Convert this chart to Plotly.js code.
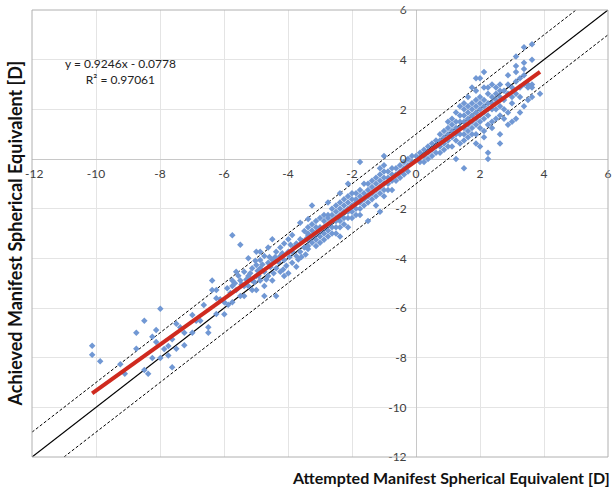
<!DOCTYPE html>
<html>
<head>
<meta charset="utf-8">
<script src="https://cdn.plot.ly/plotly-3.0.1.min.js"></script>
<style>html,body{margin:0;padding:0;background:#fff;}#chart{width:612px;height:488px;}</style>
</head>
<body>
<div id="chart"></div>
<script>
// Attempted vs achieved manifest spherical equivalent (D), pairs [attempted, achieved]
const farMyopia = [
  [-10.12,-7.52],[-10.12,-7.88],[-9.87,-8.14],[-9.24,-8.27],[-9.10,-8.65],[-8.74,-7.00],[-8.74,-7.64],
  [-8.49,-6.51],[-8.49,-8.50],[-8.37,-8.65],[-8.24,-7.16],[-8.24,-8.01],[-8.12,-6.89],[-8.12,-7.37],
  [-7.99,-6.03],[-7.99,-8.01],[-7.87,-7.65],[-7.74,-7.53],[-7.74,-7.91],[-7.62,-7.26],[-7.62,-8.39],
  [-7.49,-6.63],[-7.49,-7.64],[-7.37,-6.78],[-7.24,-7.00],[-7.24,-7.50],[-6.99,-6.28],[-6.99,-7.00],
  [-6.87,-6.51],[-6.74,-6.51],[-6.63,-5.88],[-6.49,-6.78],[-6.49,-7.00]
];
const moderateMyopia = [
  [-6.37,-4.89],[-6.37,-5.28],[-6.24,-5.28],[-6.24,-5.61],[-6.24,-6.24],[-6.12,-5.65],[-5.99,-5.77],
  [-5.99,-6.25],[-5.87,-5.87],[-5.74,-5.77],[-5.74,-3.07],[-5.74,-4.89],[-5.74,-5.11],[-5.62,-4.54],
  [-5.62,-5.28],[-5.49,-3.45],[-5.49,-4.89],[-5.49,-5.52],[-5.37,-4.54],[-5.37,-5.11],[-5.37,-5.52],
  [-5.24,-4.00],[-5.24,-4.71],[-5.24,-5.11],[-5.12,-4.40],[-5.12,-4.89],[-5.12,-5.28],[-4.99,-3.73],
  [-4.99,-4.27],[-4.99,-4.71],[-4.99,-5.28],[-4.87,-3.73],[-4.87,-4.07],[-4.87,-4.40],[-4.87,-4.89],
  [-4.74,-3.91],[-4.74,-4.54],[-4.74,-5.11],[-4.74,-5.52],[-4.62,-3.56],[-4.62,-4.18],[-4.62,-4.71],
  [-4.49,-3.23],[-4.49,-4.07],[-4.49,-4.89],[-4.37,-3.73],[-4.37,-4.40],[-4.37,-5.52],[-4.24,-3.56],
  [-4.24,-3.91],[-4.24,-4.54],[-4.12,-3.40],[-4.12,-4.07],[-4.12,-4.71],[-3.99,-3.23],[-3.99,-3.73],
  [-3.99,-4.60],[-3.87,-3.06],[-3.87,-3.73],[-3.87,-4.18],[-3.74,-3.40],[-3.74,-3.91],[-3.74,-4.34],
  [-3.62,-2.57],[-3.62,-3.23],[-3.62,-3.73],[-3.49,-2.90],[-3.49,-3.56],[-3.37,-2.42],[-3.37,-3.06],
  [-5.90,-5.20],[-5.80,-5.40],[-5.66,-5.00],[-5.55,-4.70],[-5.45,-5.05],[-5.30,-4.85],[-5.18,-4.60],
  [-5.05,-4.95],[-4.95,-4.50],[-4.80,-4.25],[-4.68,-4.85],[-4.55,-4.35],[-4.45,-4.60],[-4.30,-4.15],
  [-4.18,-3.80],[-4.05,-4.30],[-3.95,-3.95],[-3.80,-3.55],[-3.68,-4.05],[-3.55,-3.30],[-3.45,-3.85],
  [-3.42,-3.20],[-4.58,-3.95],[-4.92,-4.70],[-5.02,-4.10],[-4.40,-3.95],[-4.15,-4.45],[-3.92,-3.45],
  [-3.58,-3.95]
];
const lowMyopia = [
  [-3.375,-2.75],[-3.375,-3.0],[-3.375,-3.25],[-3.375,-3.5],[-3.375,-3.625],
  [-3.25,-1.875],[-3.25,-2.625],[-3.25,-2.875],[-3.25,-3.125],[-3.25,-3.375],
  [-3.125,-2.5],[-3.125,-2.75],[-3.125,-3.0],[-3.125,-3.25],[-3.125,-3.5],
  [-3.0,-2.375],[-3.0,-2.75],[-3.0,-2.875],[-3.0,-3.125],[-3.0,-3.375],
  [-2.875,-2.25],[-2.875,-2.5],[-2.875,-2.75],[-2.875,-3.0],[-2.875,-3.25],
  [-2.75,-1.75],[-2.75,-2.25],[-2.75,-2.375],[-2.75,-2.625],[-2.75,-2.875],[-2.75,-3.125],
  [-2.625,-2.0],[-2.625,-2.25],[-2.625,-2.5],[-2.625,-2.75],[-2.625,-3.0],
  [-2.5,-1.875],[-2.5,-2.125],[-2.5,-2.375],[-2.5,-2.5],[-2.5,-2.75],[-2.5,-3.0],
  [-2.375,-1.375],[-2.375,-1.75],[-2.375,-2.0],[-2.375,-2.25],[-2.375,-2.5],[-2.375,-2.75],[-2.375,-3.125],
  [-2.25,-1.625],[-2.25,-1.875],[-2.25,-2.125],[-2.25,-2.375],[-2.25,-2.625],
  [-2.125,-1.0],[-2.125,-1.5],[-2.125,-1.75],[-2.125,-2.0],[-2.125,-2.125],[-2.125,-2.375],[-2.125,-2.75],
  [-2.0,-1.375],[-2.0,-1.625],[-2.0,-1.875],[-2.0,-2.125],[-2.0,-2.375],
  [-1.875,-1.375],[-1.875,-1.625],[-1.875,-1.75],[-1.875,-2.0],[-1.875,-2.25],
  [-1.75,-0.125],[-1.75,-1.25],[-1.75,-1.5],[-1.75,-1.75],[-1.75,-2.0],[-1.75,-2.25],
  [-1.625,-1.0],[-1.625,-1.375],[-1.625,-1.625],[-1.625,-1.875],
  [-1.5,-1.0],[-1.5,-1.25],[-1.5,-1.5],[-1.5,-1.75],[-1.5,-2.5],
  [-1.375,-0.875],[-1.375,-1.125],[-1.375,-1.375],[-1.375,-1.625],
  [-1.25,-0.75],[-1.25,-1.0],[-1.25,-1.25],[-1.25,-1.5],[-1.25,-1.875],
  [-1.125,-0.375],[-1.125,-0.625],[-1.125,-0.875],[-1.125,-1.125],[-1.125,-1.375],[-1.125,-2.125],
  [-1.0,0.125],[-1.0,-0.25],[-1.0,-0.5],[-1.0,-0.75],[-1.0,-1.0],[-1.0,-1.25],[-1.0,-1.5],
  [-0.875,-0.5],[-0.875,-0.75],[-0.875,-1.0],[-0.875,-1.25],
  [-0.75,-0.375],[-0.75,-0.625],[-0.75,-0.875],[-0.75,-1.25],
  [-0.625,-0.375],[-0.625,-0.625],[-0.625,-0.875],
  [-0.5,-0.25],[-0.5,-0.5],[-0.5,-0.75],
  [-0.375,-0.125],[-0.375,-0.375],[-0.375,-0.625],
  [-0.25,0.0],[-0.25,-0.25],[-0.25,-0.5],
  [-0.125,0.125],[-0.125,-0.125]
];
const hyperopia = [
  [0.0,0.125],
  [0.125,0.25],[0.125,-0.125],
  [0.25,0.375],[0.25,0.125],[0.25,-0.125],
  [0.375,0.5],[0.375,0.25],[0.375,0.0],
  [0.5,0.625],[0.5,0.375],[0.5,0.125],
  [0.625,0.75],[0.625,0.5],[0.625,0.25],
  [0.75,1.0],[0.75,0.75],[0.75,0.5],[0.75,0.25],
  [0.875,1.125],[0.875,0.875],[0.875,0.625],[0.875,0.375],
  [1.0,1.5],[1.0,1.25],[1.0,1.0],[1.0,0.75],[1.0,0.5],
  [1.125,1.625],[1.125,1.375],[1.125,1.125],[1.125,0.875],[1.125,0.5],
  [1.25,1.875],[1.25,1.5],[1.25,1.25],[1.25,1.0],[1.25,0.75],[1.25,0.0],
  [1.375,2.125],[1.375,1.75],[1.375,1.5],[1.375,1.25],[1.375,1.0],[1.375,0.625],
  [1.5,2.25],[1.5,2.0],[1.5,1.75],[1.5,1.5],[1.5,1.25],[1.5,1.0],[1.5,0.75],[1.5,-0.375],
  [1.625,2.5],[1.625,2.125],[1.625,1.875],[1.625,1.625],[1.625,1.375],[1.625,1.125],[1.625,0.875],
  [1.75,2.875],[1.75,2.25],[1.75,2.0],[1.75,1.75],[1.75,1.5],[1.75,1.25],[1.75,1.0],
  [1.875,3.25],[1.875,2.75],[1.875,2.375],[1.875,2.125],[1.875,1.875],[1.875,1.625],[1.875,1.375],[1.875,1.0],[1.875,0.625],
  [2.0,3.25],[2.0,2.5],[2.0,2.25],[2.0,2.0],[2.0,1.75],[2.0,1.5],[2.0,1.25],[2.0,0.5],
  [2.125,3.5],[2.125,2.875],[2.125,2.375],[2.125,2.125],[2.125,1.875],[2.125,1.625],[2.125,1.125],[2.125,0.875],
  [2.25,2.875],[2.25,2.625],[2.25,2.25],[2.25,2.0],[2.25,1.75],[2.25,1.375],[2.25,0.25],[2.25,0.0],
  [2.375,3.0],[2.375,2.5],[2.375,2.25],[2.375,2.0],[2.375,1.5],[2.375,1.25],
  [2.5,2.875],[2.5,2.625],[2.5,2.375],[2.5,2.0],[2.5,1.625],
  [2.625,3.0],[2.625,2.75],[2.625,2.5],[2.625,2.125],[2.625,1.75],[2.625,1.0],[2.625,0.625],
  [2.75,2.75],[2.75,2.375],[2.75,2.0],[2.75,1.625],
  [2.875,3.375],[2.875,3.0],[2.875,2.625],[2.875,1.875],[2.875,1.375],
  [3.0,2.875],[3.0,2.5],[3.0,2.25],[3.0,1.5],
  [3.125,4.125],[3.125,3.75],[3.125,3.5],[3.125,3.125],[3.125,2.625],[3.125,1.625],
  [3.25,3.25],[3.25,2.875],[3.25,2.5],[3.25,1.875],
  [3.375,4.5],[3.375,3.875],[3.375,3.625],[3.375,3.375],[3.375,3.0],[3.375,2.125],
  [3.5,3.0],[3.5,2.875],[3.5,2.375],
  [3.625,4.625],[3.625,4.0],[3.625,3.0],[3.625,2.875],[3.625,2.5],
  [3.875,2.625]
];
const axisTicks = [-12,-10,-8,-6,-4,-2,0,2,4,6];
const axisRange = [-12, 6];
const toleranceD = 1;
const fitSlope = 0.9246, fitIntercept = -0.0778;
const fitLabel = 'y = 0.9246x - 0.0778<br>R\u00b2 = 0.97061';
const xTitle = 'Attempted Manifest Spherical Equivalent [D]';
const yTitle = 'Achieved Manifest Spherical Equivalent [D]';

const allPts = farMyopia.concat(moderateMyopia, lowMyopia, hyperopia);
const attempted = allPts.map(p => p[0]);
const achieved = allPts.map(p => p[1]);
const xMin = Math.min(...attempted), xMax = Math.max(...attempted);

const lineX = axisRange;
const traces = [
  {x: lineX, y: lineX, mode: 'lines', line: {color: '#000', width: 1.2}, hoverinfo: 'skip'},
  {x: [axisRange[0], axisRange[1] - toleranceD], y: [axisRange[0] + toleranceD, axisRange[1]], mode: 'lines',
   line: {color: '#000', width: 1, dash: '3px,2px'}, hoverinfo: 'skip'},
  {x: [axisRange[0] + toleranceD, axisRange[1]], y: [axisRange[0], axisRange[1] - toleranceD], mode: 'lines',
   line: {color: '#000', width: 1, dash: '3px,2px'}, hoverinfo: 'skip'},
  {x: attempted, y: achieved, mode: 'markers', type: 'scatter',
   marker: {symbol: 'diamond', size: 5, color: '#7198d4'}},
  {x: [xMin, xMax], y: [fitSlope * xMin + fitIntercept, fitSlope * xMax + fitIntercept], mode: 'lines',
   line: {color: '#cf2a1f', width: 4}}
];

const tickFont = {family: 'Lato, "DejaVu Sans", sans-serif', size: 12, color: '#404040'};
// first x tick label is drawn as an annotation so it sits fully inside the frame
const xTickText = axisTicks.map((v, i) => i === 0 ? '' : String(v));
const layout = {
  width: 612, height: 488,
  margin: {l: 32, r: 4, t: 10, b: 31},
  showlegend: false,
  paper_bgcolor: '#fff', plot_bgcolor: '#fff',
  xaxis: {range: axisRange, tickvals: axisTicks, ticktext: xTickText,
    anchor: 'free', position: 12/18, side: 'bottom', ticklabeloverflow: 'allow',
    ticks: 'outside', ticklen: 4, tickcolor: 'rgba(0,0,0,0)',
    showgrid: true, gridcolor: '#e4e4e4', gridwidth: 1,
    zeroline: true, zerolinecolor: '#c8c8c8', zerolinewidth: 1,
    showline: false, tickfont: tickFont},
  yaxis: {range: axisRange, tickvals: axisTicks, ticktext: axisTicks.map(String),
    anchor: 'free', position: 12/18, side: 'left', ticklabeloverflow: 'allow',
    ticks: 'outside', ticklen: 7, tickcolor: 'rgba(0,0,0,0)',
    showgrid: true, gridcolor: '#e4e4e4', gridwidth: 1,
    zeroline: true, zerolinecolor: '#c8c8c8', zerolinewidth: 1,
    showline: false, tickfont: tickFont},
  shapes: [{type: 'rect', xref: 'paper', yref: 'paper', x0: 0, x1: 1, y0: 0, y1: 1,
    line: {color: '#b0b0b0', width: 1}, layer: 'above'}],
  annotations: [
    {text: String(axisTicks[0]), x: axisTicks[0], y: 0, xref: 'x', yref: 'y', xanchor: 'center', xshift: 2,
     yanchor: 'top', yshift: -5, showarrow: false, font: tickFont},
    {text: fitLabel, x: -9.22, y: 3.52, xref: 'x', yref: 'y', showarrow: false, align: 'center',
     font: {family: 'Lato, "DejaVu Sans", sans-serif', size: 12, color: '#222'}},
    {text: '<b>' + yTitle + '</b>', xref: 'paper', yref: 'paper', x: 0, xanchor: 'center', xshift: -18,
     y: 0.5, yanchor: 'middle', textangle: -90, showarrow: false,
     font: {family: 'Lato, sans-serif', size: 18, color: '#111'}},
    {text: '<b>' + xTitle + '</b>', xref: 'paper', yref: 'paper', x: 0.7274, xanchor: 'center',
     y: 0, yshift: -20, yanchor: 'middle', showarrow: false,
     font: {family: 'Lato, sans-serif', size: 16, color: '#111'}}
  ]
};
Plotly.newPlot('chart', traces, layout, {displayModeBar: false, staticPlot: true});
</script>
</body>
</html>
